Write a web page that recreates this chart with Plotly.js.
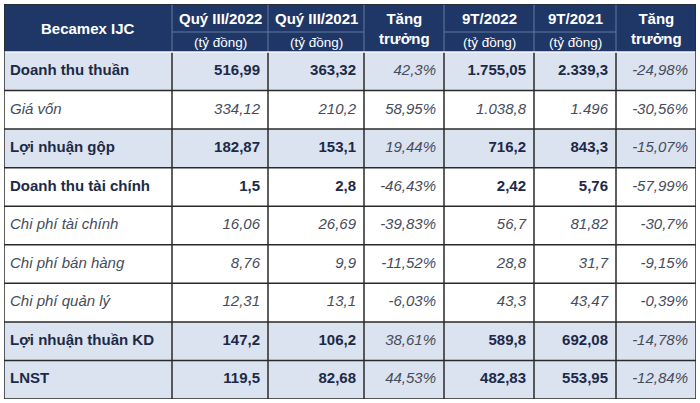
<!DOCTYPE html>
<html><head><meta charset="utf-8">
<script src="https://cdn.plot.ly/plotly-3.0.1.min.js"></script>
<style>html,body{margin:0;padding:0;background:#fff;}#chart{width:700px;height:403px;}</style>
</head><body><div id="chart"></div>
<script>
// ---- data ----
var headerTitles = ["Becamex IJC","Quý III/2022","Quý III/2021","Tăng<br>trưởng","9T/2022","9T/2021","Tăng<br>trưởng"];
var headerUnits = ["","(tỷ đồng)","(tỷ đồng)","","(tỷ đồng)","(tỷ đồng)",""];
var labels = ["Doanh thu thuần","Giá vốn","Lợi nhuận gộp","Doanh thu tài chính","Chi phí tài chính","Chi phí bán hàng","Chi phí quản lý","Lợi nhuận thuần KD","LNST"];
var q3_2022 = [516.99,334.12,182.87,1.5,16.06,8.76,12.31,147.2,119.5];
var q3_2021 = [363.32,210.2,153.1,2.8,26.69,9.9,13.1,106.2,82.68];
var growthQ = [42.3,58.95,19.44,-46.43,-39.83,-11.52,-6.03,38.61,44.53];
var m9_2022 = [1755.05,1038.8,716.2,2.42,56.7,28.8,43.3,589.8,482.83];
var m9_2021 = [2339.3,1496,843.3,5.76,81.82,31.7,43.47,692.08,553.95];
var growth9 = [-24.98,-30.56,-15.07,-57.99,-30.7,-9.15,-0.39,-14.78,-12.84];
var rowBold = [true,false,true,true,false,false,false,true,true];
var rowShaded = [true,false,true,false,false,false,false,true,true];

// ---- layout constants ----
var colEdges = [0,168,264,360,440,530,612,692];
var HDR = 48/38.56, HSPLIT = 28/38.56;
var NAVY = "#1f3766", SHADE = "#dbe2f0", BOLDC = "#1d2a47", ITALC = "#464c5c";
var FONT = "Liberation Sans, Arial, sans-serif";
var PAD = 8;

function fmt(v){
  var s = String(Math.abs(v)); var p = s.split(".");
  var ip = p[0].replace(/\B(?=(\d{3})+(?!\d))/g, ".");
  return (v<0?"-":"") + ip + (p.length>1 ? ","+p[1] : "");
}

var nR = labels.length;
var rowsY = labels.map(function(_,i){return i+0.5;});
// background heatmap
var yEdges = [-HDR]; for (var i=0;i<=nR;i++) yEdges.push(i);
var z = [[2,2,2,2,2,2,2]];
for (var i=0;i<nR;i++){ var r=[]; for (var c=0;c<7;c++) r.push(rowShaded[i]?1:0); z.push(r); }
var traces = [{
  type:"heatmap", x:colEdges, y:yEdges, z:z, zmin:0, zmax:2, showscale:false, hoverinfo:"skip",
  colorscale:[[0,"#ffffff"],[0.499,"#ffffff"],[0.5,SHADE],[0.999,SHADE],[1,NAVY]]
}];

var cols = [q3_2022,q3_2021,growthQ,m9_2022,m9_2021,growth9];
var isGrowth = [false,false,true,false,false,true];
// label column
traces.push({type:"scatter", mode:"text", x:labels.map(function(){return colEdges[0]+PAD-2;}), y:rowsY,
  text:labels.map(function(t,i){return rowBold[i]?"<b>"+t+"</b>":"<i>"+t+"</i>";}),
  textposition:"middle right", hoverinfo:"skip", cliponaxis:false,
  textfont:{family:FONT,size:15,color:rowBold.map(function(b){return b?BOLDC:ITALC;})}});
cols.forEach(function(arr,k){
  var xr = colEdges[k+2]-PAD;
  traces.push({type:"scatter", mode:"text", x:arr.map(function(){return xr;}), y:rowsY,
    text:arr.map(function(v,i){var s=fmt(v)+(isGrowth[k]?"%":""); return (!isGrowth[k]&&rowBold[i])?"<b>"+s+"</b>":"<i>"+s+"</i>";}),
    textposition:"middle left", hoverinfo:"skip", cliponaxis:false,
    textfont:{family:FONT,size:15,
      color:arr.map(function(v,i){return (!isGrowth[k]&&rowBold[i])?BOLDC:ITALC;})}});
});

// header annotations
var ann = [];
headerTitles.forEach(function(t,c){
  var xc = (colEdges[c]+colEdges[c+1])/2;
  if (headerUnits[c]) {
    ann.push({x:xc,y:-HDR+HSPLIT/2+0.01,xref:"x",yref:"y",text:"<b>"+t+"</b>",showarrow:false,font:{family:FONT,size:15,color:"#ffffff"}});
    ann.push({x:xc,y:-(HDR-HSPLIT)/2+0.02,xref:"x",yref:"y",text:headerUnits[c],showarrow:false,font:{family:FONT,size:13.5,color:"#ffffff"}});
  } else {
    ann.push({x:xc,y:-HDR/2,xref:"x",yref:"y",text:"<b>"+t+"</b>",showarrow:false,font:{family:FONT,size:15,color:"#ffffff"}});
  }
});

// grid lines
var shapes = [];
var HL = "#6878a0", DK = "#2a2a2a";
for (var c=1;c<colEdges.length-1;c++){
  shapes.push({type:"line",xref:"x",yref:"y",x0:colEdges[c],x1:colEdges[c],y0:-HDR,y1:0,line:{color:HL,width:1}});
  shapes.push({type:"line",xref:"x",yref:"y",x0:colEdges[c],x1:colEdges[c],y0:0,y1:nR,line:{color:DK,width:1.5}});
}
headerUnits.forEach(function(u,c){
  if (u) shapes.push({type:"line",xref:"x",yref:"y",x0:colEdges[c],x1:colEdges[c+1],y0:-HDR+HSPLIT,y1:-HDR+HSPLIT,line:{color:HL,width:1}});
});
for (var i=1;i<nR;i++) shapes.push({type:"line",xref:"x",yref:"y",x0:0,x1:colEdges[7],y0:i,y1:i,line:{color:DK,width:1.5}});
shapes.push({type:"line",xref:"x",yref:"y",x0:0,x1:colEdges[7],y0:0,y1:0,line:{color:"#f4f6fa",width:1.5}});
shapes.push({type:"rect",xref:"x",yref:"y",x0:0,x1:colEdges[7],y0:-HDR,y1:nR,line:{color:DK,width:1.5}});

var layout = {
  width:700, height:403, margin:{l:4,r:4,t:4,b:4},
  paper_bgcolor:"#ffffff", plot_bgcolor:"#ffffff", showlegend:false,
  xaxis:{range:[0,colEdges[7]],visible:false,fixedrange:true},
  yaxis:{range:[nR,-HDR],visible:false,fixedrange:true},
  annotations:ann, shapes:shapes, font:{family:FONT}
};
Plotly.newPlot("chart", traces, layout, {displayModeBar:false, staticPlot:true});
</script></body></html>
